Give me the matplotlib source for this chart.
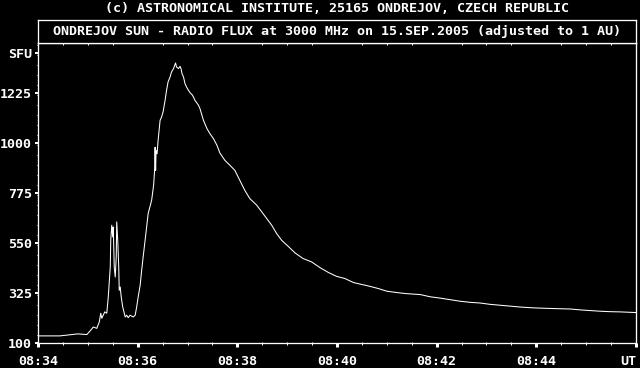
import numpy as np
import matplotlib
matplotlib.use("Agg")
from matplotlib import pyplot as plt
from matplotlib.ticker import MultipleLocator

# time in minutes of hour 08 (UT), flux in SFU
minutes = [34.00, 34.44, 34.80, 34.98, 35.04, 35.11, 35.18, 35.23, 35.26, 35.28,
           35.31, 35.34, 35.38, 35.41, 35.45, 35.46, 35.48, 35.50, 35.51, 35.53,
           35.55, 35.57, 35.58, 35.60, 35.62, 35.63, 35.65, 35.67, 35.70, 35.75,
           35.78, 35.81, 35.85, 35.91, 35.95, 35.98, 36.01, 36.05, 36.08, 36.11,
           36.15, 36.18, 36.21, 36.28, 36.32, 36.34, 36.35, 36.36, 36.37, 36.39,
           36.41, 36.45, 36.48, 36.51, 36.55, 36.58, 36.61, 36.65, 36.68, 36.72,
           36.76, 36.78, 36.82, 36.85, 36.87, 36.89, 36.92, 36.95, 36.98, 37.02,
           37.05, 37.10, 37.15, 37.22, 37.25, 37.29, 37.32, 37.39, 37.45, 37.52,
           37.59, 37.65, 37.75, 37.85, 37.95, 38.05, 38.15, 38.25, 38.39, 38.49,
           38.59, 38.69, 38.79, 38.89, 39.02, 39.16, 39.32, 39.49, 39.66, 39.83,
           39.99, 40.16, 40.33, 40.50, 40.66, 40.83, 41.00, 41.20, 41.40, 41.67,
           41.87, 42.07, 42.27, 42.47, 42.67, 42.87, 43.07, 43.27, 43.47, 43.67,
           43.87, 44.07, 44.34, 44.68, 44.88, 45.08, 45.28, 45.48, 45.68, 46.00]
flux = [132, 132, 141, 138, 153, 172, 166, 195, 234, 211,
        225, 240, 234, 307, 442, 562, 630, 577, 622, 442,
        397, 487, 645, 562, 442, 337, 352, 307, 262, 217,
        225, 214, 225, 217, 225, 262, 307, 360, 427, 487,
        562, 622, 682, 742, 810, 877, 981, 877, 967, 952,
        1012, 1102, 1117, 1140, 1192, 1237, 1275, 1297, 1320, 1335,
        1360, 1342, 1335, 1345, 1335, 1312, 1297, 1267, 1252, 1237,
        1227, 1215, 1192, 1170, 1155, 1125, 1102, 1065, 1042, 1020,
        990, 955, 922, 900, 877, 832, 787, 750, 720, 690,
        660, 630, 592, 562, 535, 505, 480, 465, 439, 417,
        400, 390, 372, 363, 355, 345, 333, 327, 322, 318,
        308, 302, 295, 288, 283, 280, 274, 270, 266, 262,
        259, 257, 255, 253, 249, 246, 243, 241, 240, 237]

y_ticks = [100, 325, 550, 775, 1000, 1225, 1405]
y_labels = ["100", "325", "550", "775", "1000", "1225", "SFU"]
x_ticks = [34, 36, 38, 40, 42, 44, 46]
x_labels = ["08:34", "08:36", "08:38", "08:40", "08:42", "08:44", "UT"]

title1 = "(c) ASTRONOMICAL INSTITUTE, 25165 ONDREJOV, CZECH REPUBLIC"
title2 = "ONDREJOV SUN - RADIO FLUX at 3000 MHz on 15.SEP.2005 (adjusted to 1 AU)"

W, H = 640, 368
px = 0.72  # one pixel in points at dpi 100
font = dict(family="DejaVu Sans Mono", weight="bold", size=9.6, color="white")

fig = plt.figure(figsize=(W / 100, H / 100), dpi=100, facecolor="black")

# main plot area: x 38..636, y 43..343 (pixels from top)
ax = fig.add_axes([38 / W, (H - 343) / H, 598 / W, 300 / H], facecolor="black")
ax.plot(minutes, flux, color="white", lw=0.75)
ax.set_xlim(34, 46)
ax.set_ylim(100, 1450)

for s in ax.spines.values():
    s.set_color("white")
    s.set_linewidth(px * 1.3)

ax.set_yticks(y_ticks)
ax.set_yticklabels(y_labels, fontdict=font)
ax.yaxis.set_minor_locator(MultipleLocator(45))
ax.set_xticks(x_ticks)
ax.set_xticklabels(x_labels, fontdict=font)
ax.get_xticklabels()[-1].set_ha("right")
ax.xaxis.set_minor_locator(MultipleLocator(0.5))

ax.tick_params(axis="y", which="major", direction="out", length=3 * px,
               width=2 * px, color="white", pad=3 * px)
ax.tick_params(axis="y", which="minor", direction="out", length=1.5 * px,
               width=1 * px, color="white")
ax.tick_params(axis="x", which="major", direction="out", length=4 * px,
               width=3 * px, color="white", pad=8 * px)
ax.tick_params(axis="x", which="minor", direction="inout", length=3 * px,
               width=1 * px, color="white", top=True)

# title box: y 20..43
tax = fig.add_axes([38 / W, (H - 43) / H, 598 / W, 23 / H], facecolor="black")
tax.set_xticks([])
tax.set_yticks([])
for s in tax.spines.values():
    s.set_color("white")
    s.set_linewidth(px * 1.3)
tax.text(0.5, 0.5, title2, ha="center", va="center", transform=tax.transAxes, **font)

fig.text(337 / W, (H - 8) / H, title1, ha="center", va="center", **font)

fig.savefig("out.png", dpi=100, facecolor="black")
